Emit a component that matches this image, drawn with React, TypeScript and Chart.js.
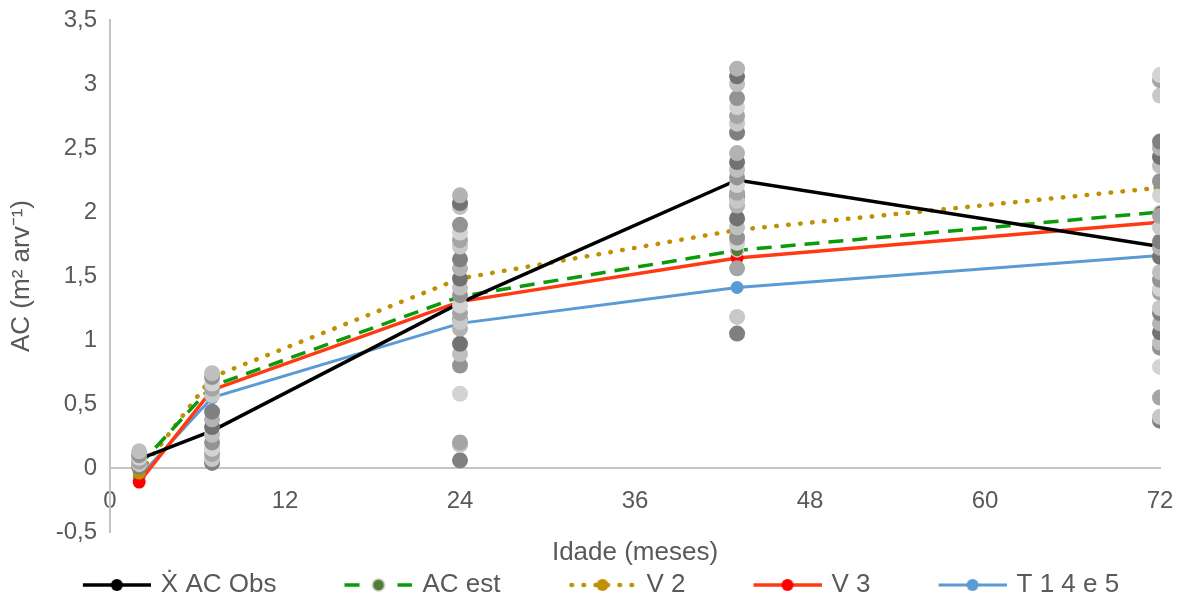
import React, { useEffect, useRef } from 'react';
import { Chart, registerables } from 'chart.js';

Chart.register(...registerables);

// ---- data ----
const ageMonths = [2, 7, 24, 43, 72];
const obsMean = [0.07, 0.29, 1.29, 2.25, 1.73];
const acEst = [0.02, 0.64, 1.34, 1.7, 2.0];
const v2 = [-0.04, 0.71, 1.48, 1.86, 2.19];
const v3 = [-0.11, 0.61, 1.3, 1.64, 1.92];
const t145 = [-0.07, 0.55, 1.13, 1.41, 1.66];

const obsAt2 = [0.01, 0.03, 0.05, 0.08, 0.1, 0.13];
const obsAt7 = [0.04, 0.07, 0.11, 0.15, 0.2, 0.26, 0.32, 0.38, 0.44, 0.57, 0.62, 0.66, 0.71, 0.74];
const obsAt24 = [0.06, 0.18, 0.2, 0.58, 0.8, 0.89, 0.97, 1.09, 1.16, 1.14, 1.21, 1.27, 1.35, 1.41, 1.48, 1.56, 1.63, 1.73, 1.78, 1.84, 1.9, 2.04, 2.07, 2.13];
const obsAt43 = [1.05, 1.18, 1.56, 1.76, 1.8, 1.88, 1.95, 2.05, 2.12, 2.09, 2.15, 2.21, 2.27, 2.33, 2.39, 2.46, 2.62, 2.69, 2.75, 2.82, 2.89, 3.0, 3.06, 3.12];
const obsAt72 = [0.37, 0.4, 0.55, 0.79, 0.94, 0.98, 1.06, 1.13, 1.21, 1.25, 1.37, 1.4, 1.47, 1.53, 1.65, 1.72, 1.77, 1.88, 1.97, 2.13, 2.24, 2.36, 2.43, 2.5, 2.55, 2.91, 3.03, 3.07];
const obsColumns = [obsAt2, obsAt7, obsAt24, obsAt43, obsAt72];

const seriesLabels = ['\u1E8A AC Obs', 'AC est', 'V 2', 'V 3', 'T 1 4 e 5'];
const seriesValues = [obsMean, acEst, v2, v3, t145];

const xMin = 0;
const xMax = 72;
const xStep = 12;
const yMin = -0.5;
const yMax = 3.5;
const yStep = 0.5;

// ---- styles ----
const FONT = "'Liberation Sans', Arial, sans-serif";
const TEXT = '#595959';
const AXIS = '#C4C4C4';
const grayPalette = ['#808080', '#C8C8C8', '#A5A5A5', '#D3D3D3', '#939393', '#BFBFBF', '#727272', '#B3B3B3'];

type SeriesStyle = {
  line: string;
  point: string;
  pointBorder?: string;
  width: number;
  dash: number[];
  cap: CanvasLineCap;
  legendDash: number[];
};

const seriesStyles: SeriesStyle[] = [
  { line: '#000000', point: '#000000', width: 3.5, dash: [], cap: 'butt', legendDash: [] },
  { line: '#0A9A0A', point: '#507D32', pointBorder: '#C8C8C8', width: 3.5, dash: [15, 9], cap: 'butt', legendDash: [15, 38] },
  { line: '#BF9000', point: '#BF9000', width: 4.5, dash: [0.5, 11.5], cap: 'round', legendDash: [0.5, 11.5] },
  { line: '#FF3A12', point: '#FF0000', width: 3.5, dash: [], cap: 'butt', legendDash: [] },
  { line: '#5B9BD5', point: '#5B9BD5', width: 3, dash: [], cap: 'butt', legendDash: [] },
];

const LEG_BOX = 93;
const LEG_IMG = LEG_BOX + 6;
const LEG_MARK = 68;

function makeLegendImage(s: SeriesStyle): HTMLCanvasElement {
  const c = document.createElement('canvas');
  c.width = LEG_IMG;
  c.height = 22;
  const ctx = c.getContext('2d')!;
  const x1 = LEG_IMG;
  const x0 = x1 - LEG_MARK;
  const cy = 11;
  ctx.strokeStyle = s.line;
  ctx.lineWidth = s.width;
  ctx.lineCap = s.cap;
  ctx.setLineDash(s.legendDash);
  ctx.beginPath();
  ctx.moveTo(s.cap === 'round' ? x0 + 3 : x0, cy);
  ctx.lineTo(x1, cy);
  ctx.stroke();
  ctx.setLineDash([]);
  ctx.beginPath();
  ctx.arc((x0 + x1) / 2, cy, 6, 0, Math.PI * 2);
  ctx.fillStyle = s.point;
  ctx.fill();
  if (s.pointBorder) {
    ctx.lineWidth = 1.5;
    ctx.strokeStyle = s.pointBorder;
    ctx.stroke();
  }
  return c;
}

export default function App() {
  const ref = useRef<HTMLCanvasElement>(null);

  useEffect(() => {
    if (!ref.current) return;
    const legendImages = seriesStyles.map(makeLegendImage);

    const lineDatasets = seriesLabels.map((label, i) => {
      const s = seriesStyles[i];
      return {
        type: 'line' as const,
        label,
        data: ageMonths.map((x, k) => ({ x, y: seriesValues[i][k] })),
        borderColor: s.line,
        borderWidth: s.width,
        borderDash: s.dash,
        borderCapStyle: s.cap,
        backgroundColor: s.point,
        pointBackgroundColor: s.point,
        pointBorderColor: s.pointBorder || s.point,
        pointBorderWidth: s.pointBorder ? 1.5 : 0,
        pointRadius: 6.5,
        tension: 0,
        fill: false,
        order: 1,
      };
    });

    const scatterDatasets = obsColumns.map((col, j) => ({
      type: 'scatter' as const,
      label: '',
      data: col.map((y) => ({ x: ageMonths[j], y })),
      backgroundColor: (c: any) => grayPalette[c.dataIndex % grayPalette.length],
      borderWidth: 0,
      pointRadius: 8,
      showLine: false,
      order: 0,
    }));

    const chart = new Chart(ref.current, {
      type: 'line',
      data: { datasets: [...lineDatasets, ...scatterDatasets] as any },
      options: {
        animation: false,
        responsive: true,
        maintainAspectRatio: false,
        events: [],
        layout: { padding: { left: 14, right: 23, top: 20, bottom: 0 } },
        scales: {
          x: {
            type: 'linear',
            position: { y: 0 } as any,
            min: xMin,
            max: xMax,
            grid: { display: false, drawTicks: true, tickLength: 19 },
            border: { display: true, color: AXIS, width: 2 },
            ticks: {
              stepSize: xStep,
              padding: 0,
              color: TEXT,
              font: { family: FONT, size: 24 },
            },
            title: {
              display: true,
              text: 'Idade (meses)',
              color: TEXT,
              font: { family: FONT, size: 26 },
              padding: { top: 21, bottom: 0 },
            },
          },
          y: {
            type: 'linear',
            min: yMin,
            max: yMax,
            afterFit: (scale: any) => {
              scale.width = 96;
            },
            grid: { display: false, drawTicks: true, tickLength: 13 },
            border: { display: true, color: AXIS, width: 2 },
            ticks: {
              stepSize: yStep,
              padding: 0,
              color: TEXT,
              font: { family: FONT, size: 24 },
              callback: (v: any) => String(Math.round(Number(v) * 10) / 10).replace('.', ','),
            },
            title: {
              display: true,
              text: 'AC (m\u00B2 arv\u207B\u00B9)',
              color: TEXT,
              font: { family: FONT, size: 26 },
              padding: { top: -8, bottom: 0 },
            },
          },
        },
        plugins: {
          tooltip: { enabled: false },
          legend: {
            position: 'bottom',
            maxHeight: 70,
            labels: {
              usePointStyle: true,
              pointStyleWidth: LEG_BOX,
              padding: 40,
              color: TEXT,
              font: { family: FONT, size: 26 },
              filter: (item: any) => item.datasetIndex < seriesLabels.length,
              generateLabels: (ch: any) =>
                (Chart.defaults.plugins.legend.labels.generateLabels as any)(ch).map((l: any) => ({
                  ...l,
                  pointStyle: legendImages[l.datasetIndex] || l.pointStyle,
                })),
            },
          },
        },
      },
    });
    return () => chart.destroy();
  }, []);

  return (
    <div style={{ position: 'fixed', left: 0, top: 0, width: 1183, height: 602, background: '#ffffff' }}>
      <canvas ref={ref} />
    </div>
  );
}
